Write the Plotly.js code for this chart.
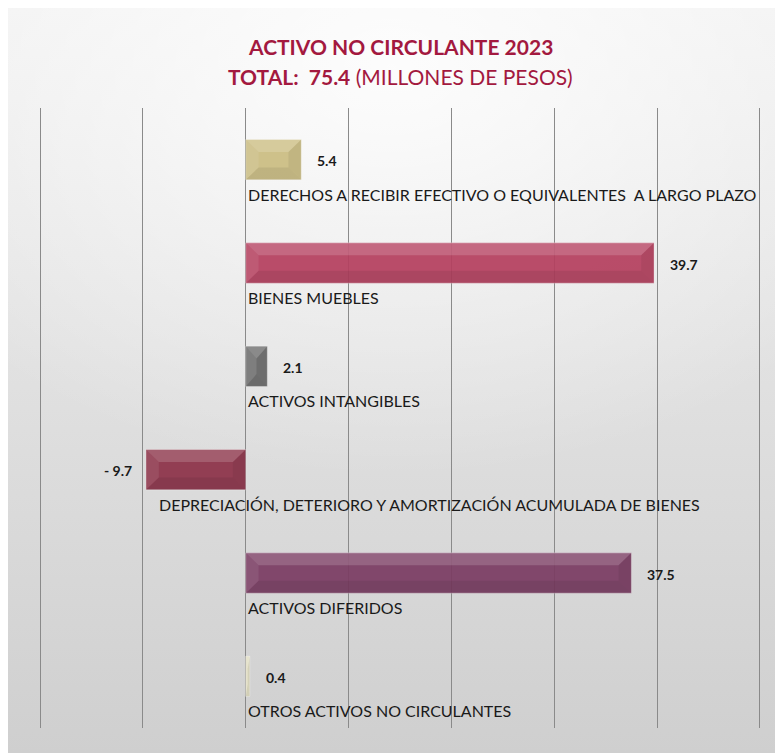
<!DOCTYPE html>
<html>
<head>
<meta charset="utf-8">
<script src="https://cdn.plot.ly/plotly-3.0.1.min.js"></script>
<style>
html,body{margin:0;padding:0;background:#ffffff;}
#wrap{position:absolute;left:0;top:0;width:775px;height:753px;background:#ffffff;}
#bg{position:absolute;left:8px;top:8px;width:767px;height:745px;
background:radial-gradient(ellipse 75% 55% at 50% 8%, rgba(255,255,255,0.85), rgba(255,255,255,0) 100%), linear-gradient(to bottom,#f1f1f1 0%,#e2e2e2 45%,#cfcfcf 100%);}
#chart{position:absolute;left:0;top:0;width:775px;height:753px;}
</style>
</head>
<body>
<div id="wrap"><div id="bg"></div><div id="chart"></div></div>
<script>
const categories = [
  "DERECHOS A RECIBIR EFECTIVO O EQUIVALENTES\u00a0 A LARGO PLAZO",
  "BIENES MUEBLES",
  "ACTIVOS INTANGIBLES",
  "DEPRECIACIÓN, DETERIORO Y AMORTIZACIÓN ACUMULADA DE BIENES",
  "ACTIVOS DIFERIDOS",
  "OTROS ACTIVOS NO CIRCULANTES"
];
const values = [5.4, 39.7, 2.1, -9.7, 37.5, 0.4];
const valueLabels = ["5.4", "39.7", "2.1", "- 9.7", "37.5", "0.4"];
const barColors = ["#cbbd82", "#b5405f", "#6c6c6c", "#8d3349", "#7b3d63", "#e4e0c4"];
const tickVals = [-20, -10, 0, 10, 20, 30, 40, 50];

const idx = categories.map((c, i) => i);
const half = 0.195;

const trace = {
  type: 'bar',
  orientation: 'h',
  x: values,
  y: idx,
  width: half * 2,
  marker: {color: barColors, opacity: 0.93, line: {color: 'rgba(255,255,255,0.35)', width: 1}},
  hoverinfo: 'skip'
};

// bevel shapes derived from data
const shapes = [];
values.forEach((v, i) => {
  const x0 = Math.min(0, v), x1 = Math.max(0, v);
  const bx = Math.min(1.25, (x1 - x0) / 2);
  const by = 0.12;
  const yt = i - half, yb = i + half;
  const p = (pts) => 'M ' + pts.map(q => q[0] + ',' + q[1]).join(' L ') + ' Z';
  shapes.push({type: 'path', xref: 'x', yref: 'y', line: {width: 0}, fillcolor: 'rgba(255,255,255,0.16)',
    path: p([[x0, yt], [x1, yt], [x1 - bx, yt + by], [x0 + bx, yt + by]])});
  shapes.push({type: 'path', xref: 'x', yref: 'y', line: {width: 0}, fillcolor: 'rgba(0,0,0,0.07)',
    path: p([[x0 + bx, yb - by], [x1 - bx, yb - by], [x1, yb], [x0, yb]])});
  shapes.push({type: 'path', xref: 'x', yref: 'y', line: {width: 0}, fillcolor: 'rgba(255,255,255,0.08)',
    path: p([[x0, yt], [x0 + bx, yt + by], [x0 + bx, yb - by], [x0, yb]])});
  shapes.push({type: 'path', xref: 'x', yref: 'y', line: {width: 0}, fillcolor: 'rgba(0,0,0,0.06)',
    path: p([[x1, yt], [x1, yb], [x1 - bx, yb - by], [x1 - bx, yt + by]])});
});

const annotations = [];
values.forEach((v, i) => {
  annotations.push({
    x: v, y: i, xref: 'x', yref: 'y', text: '<b>' + valueLabels[i] + '</b>',
    showarrow: false, xanchor: v < 0 ? 'right' : 'left', xshift: v < 0 ? -12 : 14, yshift: -1,
    font: {family: 'Lato, "Open Sans", sans-serif', size: 14, color: '#1a1a1a'}
  });
  annotations.push({
    x: v < 0 ? v : 0, y: i + 0.335, xref: 'x', yref: 'y', text: categories[i],
    showarrow: false, xanchor: 'left', xshift: v < 0 ? 11 : 0,
    font: {family: 'Lato, "Open Sans", sans-serif', size: 16, color: '#1a1a1a'}
  });
});
annotations.push({
  xref: 'paper', yref: 'paper', x: 0.5, y: 1, yshift: 62, xanchor: 'center', yanchor: 'middle',
  showarrow: false, text: '<b>ACTIVO NO CIRCULANTE 2023</b>',
  font: {family: 'Lato, "Open Sans", sans-serif', size: 21, color: '#a3193f'}
});
annotations.push({
  xref: 'paper', yref: 'paper', x: 0.5, y: 1, yshift: 32, xanchor: 'center', yanchor: 'middle',
  showarrow: false, text: '<b>TOTAL:\u00a0 75.4</b> (MILLONES DE PESOS)',
  font: {family: 'Lato, "Open Sans", sans-serif', size: 21, color: '#a3193f'}
});

const layout = {
  width: 775, height: 753,
  margin: {l: 39, r: 14, t: 108, b: 25, pad: 0},
  paper_bgcolor: 'rgba(0,0,0,0)',
  plot_bgcolor: 'rgba(0,0,0,0)',
  showlegend: false,
  xaxis: {range: [-20.1, 50.1], tickvals: tickVals, showticklabels: false, showgrid: true,
    gridcolor: '#8a8a8a', gridwidth: 1, zeroline: false, showline: false, ticks: '', fixedrange: true},
  yaxis: {range: [5.5, -0.5], showticklabels: false, showgrid: false, zeroline: false, showline: false, ticks: ''},
  shapes: shapes,
  annotations: annotations
};

Plotly.newPlot('chart', [trace], layout, {displayModeBar: false, staticPlot: true});
</script>
</body>
</html>
